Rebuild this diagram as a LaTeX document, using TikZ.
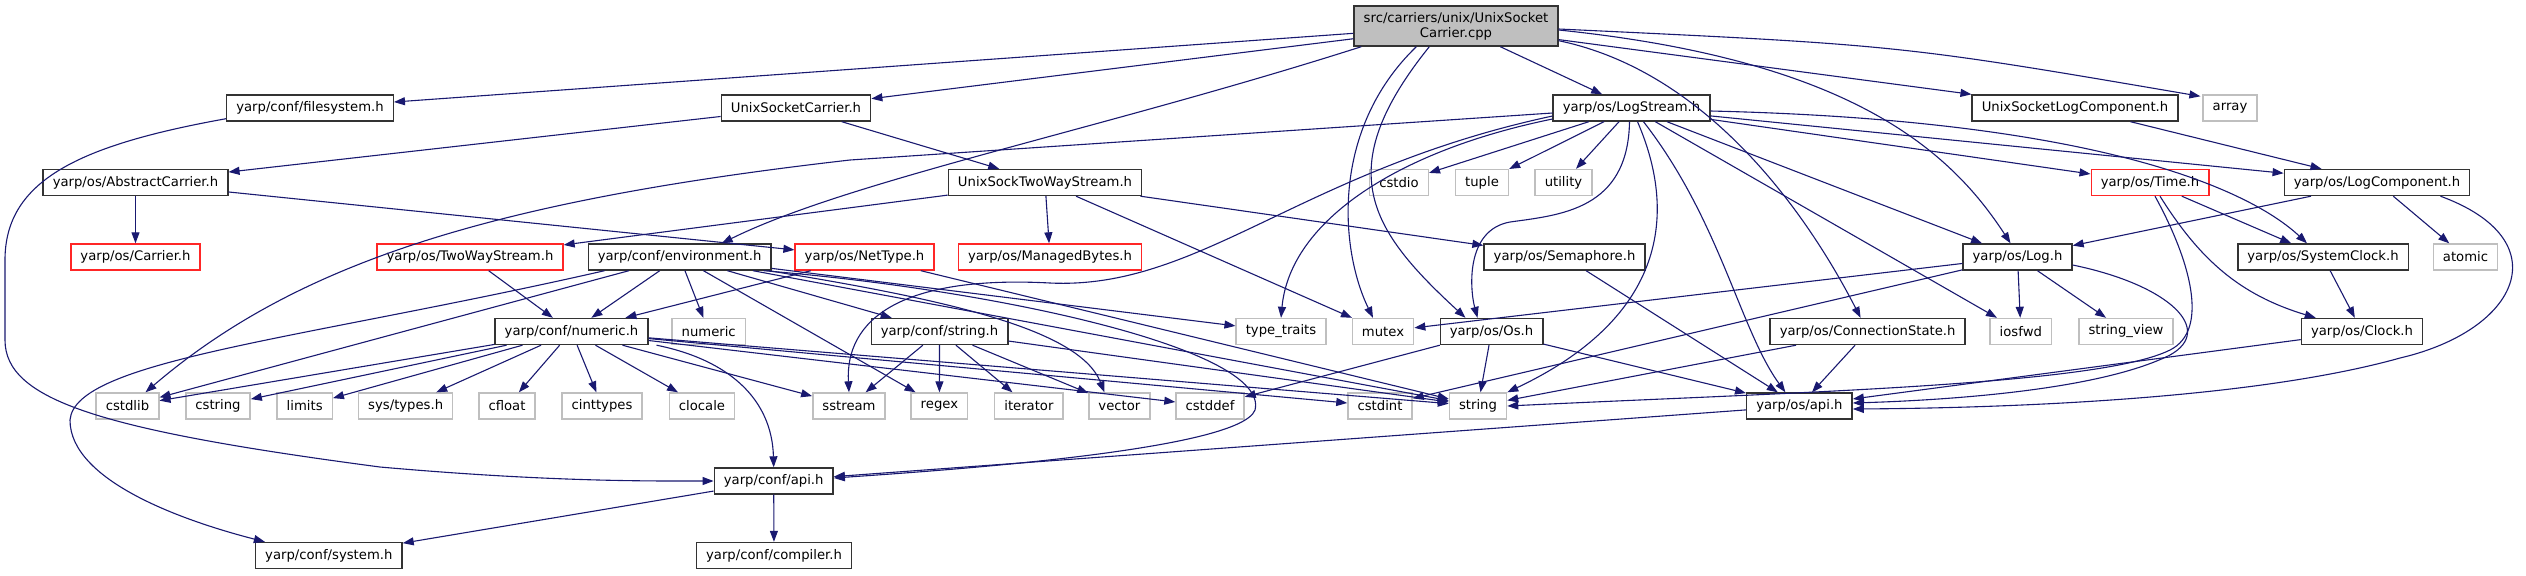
\documentclass[tikz,border=0pt]{standalone}
\usepackage{fontspec}
\setmainfont{DejaVu Sans}
\usetikzlibrary{arrows.meta, calc}
\definecolor{edgeblue}{RGB}{25,25,112}
\definecolor{sysgray}{RGB}{191,191,191}
\def\boxfont{\fontsize{6.6}{7.5}\selectfont}

\tikzset{
    box/.style={draw, fill=white, line width=0.7pt, font=\boxfont, minimum height=13pt, inner xsep=4.8pt, inner ysep=1pt},
    hdr/.style={box, draw=black!80},
    sys/.style={box, draw=sysgray},
    trunc/.style={box, draw=red!85},
    root/.style={box, draw=black!80, fill=sysgray, align=center, minimum width=102pt, minimum height=20pt},
    dep/.style={draw=edgeblue, line width=0.55pt, -{Triangle[length=5.5pt,width=4pt]}}
}

\begin{document}
\begin{tikzpicture}[x=0.5pt, y=-0.5pt]
    \useasboundingbox (0,0) rectangle (2526,575);

    \node [root] (main) at (1456,26) {src/carriers/unix/UnixSocket\\Carrier.cpp};

    \node [hdr] (fsys) at (310,108) {yarp/conf/filesystem.h};
    \node [hdr] (uscar) at (796,108) {UnixSocketCarrier.h};
    \node [hdr] (lstream) at (1631.5,108) {yarp/os/LogStream.h};
    \node [hdr] (uslog) at (2075,108) {UnixSocketLogComponent.h};
    \node [sys] (array) at (2230,108) {array};

    \node [hdr] (abscar) at (135.5,182.5) {yarp/os/AbstractCarrier.h};
    \node [hdr] (ustwo) at (1045,182.5) {UnixSockTwoWayStream.h};
    \node [sys] (cstdio) at (1399,182.5) {cstdio};
    \node [sys] (tuple) at (1482,182.5) {tuple};
    \node [sys] (utility) at (1563.5,182.5) {utility};
    \node [trunc] (time) at (2150,182.5) {yarp/os/Time.h};
    \node [hdr] (logcomp) at (2377,182.5) {yarp/os/LogComponent.h};

    \node [trunc] (carrier) at (135.5,257) {yarp/os/Carrier.h};
    \node [trunc] (twoway) at (470,257) {yarp/os/TwoWayStream.h};
    \node [hdr] (env) at (679.6,257) {yarp/conf/environment.h};
    \node [trunc] (nettype) at (864.5,257) {yarp/os/NetType.h};
    \node [trunc] (mbytes) at (1050,257) {yarp/os/ManagedBytes.h};
    \node [hdr] (sema) at (1564.5,257) {yarp/os/Semaphore.h};
    \node [hdr] (log) at (2017.5,257) {yarp/os/Log.h};
    \node [hdr] (sysclk) at (2323,257) {yarp/os/SystemClock.h};
    \node [sys] (atomic) at (2465.5,257) {atomic};

    \node [hdr] (numh) at (571.5,331.5) {yarp/conf/numeric.h};
    \node [sys] (numeric) at (708.7,331.5) {numeric};
    \node [hdr] (strh) at (939.5,331.5) {yarp/conf/string.h};
    \node [sys] (ttraits) at (1281,331.5) {type\_traits};
    \node [sys] (mutex) at (1383,331.5) {mutex};
    \node [hdr] (os) at (1491.5,331.5) {yarp/os/Os.h};
    \node [hdr] (cstate) at (1867.6,331.5) {yarp/os/ConnectionState.h};
    \node [sys] (iosfwd) at (2020.8,331.5) {iosfwd};
    \node [sys] (sview) at (2126,331.5) {string\_view};
    \node [hdr] (clock) at (2362,331.5) {yarp/os/Clock.h};

    \node [sys] (cstdlib) at (127.5,406) {cstdlib};
    \node [sys] (cstring) at (218,406) {cstring};
    \node [sys] (limits) at (304.7,406) {limits};
    \node [sys] (systypes) at (405.7,406) {sys/types.h};
    \node [sys] (cfloat) at (507,406) {cfloat};
    \node [sys] (cinttypes) at (602,406) {cinttypes};
    \node [sys] (clocale) at (702,406) {clocale};
    \node [sys] (sstream) at (849,406) {sstream};
    \node [sys] (regex) at (939.4,406) {regex};
    \node [sys] (iterator) at (1028.9,406) {iterator};
    \node [sys] (vector) at (1119.4,406) {vector};
    \node [sys] (cstddef) at (1210,406) {cstddef};
    \node [sys] (cstdint) at (1380,406) {cstdint};
    \node [sys] (string) at (1478,406) {string};
    \node [hdr] (osapi) at (1799.4,406) {yarp/os/api.h};

    \node [hdr] (confapi) at (773.7,481) {yarp/conf/api.h};
    \node [hdr] (system) at (328.8,555.5) {yarp/conf/system.h};
    \node [hdr] (compiler) at (774,555.5) {yarp/conf/compiler.h};

    \draw [dep] (main) -- (fsys);
    \draw [dep] (main) -- (uscar);
    \draw [dep] ($(main.south west)+(8,0)$) .. controls (1100,130) and (850,180) .. ($(env.north east)+(-50,0)$);
    \draw [dep] (main) -- (lstream);
    \draw [dep] ($(main.south west)+(63,0)$) .. controls (1330,130) and (1340,250) .. ($(mutex.north)+(-10,0)$);
    \draw [dep] ($(main.south west)+(76,0)$) .. controls (1330,170) and (1370,230) .. ($(os.north)+(-26,0)$);
    \draw [dep] ($(main.south east)+(0,-6)$) .. controls (1700,70) and (1800,200) .. ($(cstate.north)+(-7,0)$);
    \draw [dep] ($(main.east)+(0,4)$) .. controls (1850,60) and (1950,150) .. ($(log.north)+(-7,0)$);
    \draw [dep] (main) -- (uslog);
    \draw [dep] ($(main.east)+(0,3)$) .. controls (1900,45) .. ($(array.north west)+(-2,2)$);

    \draw [dep] ($(fsys.south west)+(0,-3)$) .. controls (80,145) and (5,180) .. (5,260) -- (5,340) .. controls (5,400) and (100,430) .. (380,467) .. controls (550,482) and (650,481) .. (confapi.west);

    \draw [dep] (uscar) -- (abscar);
    \draw [dep] (uscar) -- (ustwo);
    \draw [dep] (abscar) -- (carrier);
    \draw [dep] (abscar) -- (nettype);

    \draw [dep] (ustwo) -- (twoway);
    \draw [dep] (ustwo) -- (mbytes);
    \draw [dep] (ustwo) -- (sema);
    \draw [dep] (ustwo) -- (mutex);

    \draw [dep] ($(lstream.west)+(0,5)$) -- (850,160) .. controls (500,200) and (300,260) .. ($(cstdlib.north)+(18,0)$);
    \draw [dep] ($(lstream.west)+(0,8)$) .. controls (1300,170) and (1200,290) .. (1050,283) .. controls (900,275) and (845,320) .. (sstream.north);
    \draw [dep] ($(lstream.west)+(0,11)$) .. controls (1400,150) and (1290,220) .. (ttraits.north);
    \draw [dep] (lstream) -- (cstdio);
    \draw [dep] (lstream) -- (tuple);
    \draw [dep] (lstream) -- (utility);
    \draw [dep] ($(lstream.south)+(-2,0)$) .. controls (1628,210) and (1560,215) .. (1510,222) .. controls (1465,230) and (1470,290) .. ($(os.north)+(-14,0)$);
    \draw [dep] ($(lstream.south)+(6,0)$) .. controls (1680,220) and (1660,320) .. (string.north east);
    \draw [dep] ($(lstream.south)+(12,0)$) .. controls (1720,220) and (1740,330) .. ($(osapi.north)+(-14,0)$);
    \draw [dep] (lstream) -- (iosfwd);
    \draw [dep] (lstream) -- (log);
    \draw [dep] (lstream) -- (time);
    \draw [dep] (lstream) -- (logcomp);
    \draw [dep] ($(lstream.east)+(0,3)$) .. controls (2100,120) and (2250,190) .. ($(sysclk.north)+(-16,0)$);

    \draw [dep] (uslog) -- (logcomp);
    \draw [dep] (logcomp) -- (log);
    \draw [dep] (logcomp) -- (atomic);
    \draw [dep] ($(logcomp.south east)+(-30,0)$) .. controls (2560,240) and (2520,330) .. (2400,358) .. controls (2250,400) and (2000,408) .. ($(osapi.east)+(0,3)$);

    \draw [dep] (time) -- (sysclk);
    \draw [dep] ($(time.south)+(10,0)$) .. controls (2200,260) and (2240,295) .. ($(clock.north west)+(15,0)$);
    \draw [dep] ($(time.south)+(5,0)$) .. controls (2190,260) and (2210,330) .. (2170,350) .. controls (2100,385) and (1800,392) .. (string.east);
    \draw [dep] (sysclk) -- (clock);
    \draw [dep] (clock) -- (osapi);

    \draw [dep] (twoway) -- (numh);
    \draw [dep] ($(env.south west)+(17,0)$) .. controls (300,340) and (75,360) .. (70,420) .. controls (70,480) and (180,520) .. ($(system.north west)+(10,0)$);
    \draw [dep] (env) -- (cstdlib);
    \draw [dep] (env) -- (numh);
    \draw [dep] (env) -- (numeric);
    \draw [dep] (env) -- (regex);
    \draw [dep] (env) -- (strh);
    \draw [dep] (env) -- (ttraits);
    \draw [dep] ($(env.south east)+(-3,0)$) .. controls (950,300) and (1080,330) .. ($(vector.north)+(-15,0)$);
    \draw [dep] (env) -- (string);
    \draw [dep] ($(env.south east)+(-8,0)$) .. controls (1000,290) and (1270,350) .. (1255,410) .. controls (1240,450) and (950,470) .. ($(confapi.east)+(0,-3)$);

    \draw [dep] (nettype) -- (numh);
    \draw [dep] (nettype) -- (string);

    \draw [dep] (numh) -- (cstdlib);
    \draw [dep] (numh) -- (cstring);
    \draw [dep] (numh) -- (limits);
    \draw [dep] (numh) -- (systypes);
    \draw [dep] (numh) -- (cfloat);
    \draw [dep] (numh) -- (cinttypes);
    \draw [dep] (numh) -- (clocale);
    \draw [dep] (numh) -- (sstream);
    \draw [dep] (numh) -- (cstddef);
    \draw [dep] (numh) -- (cstdint);
    \draw [dep] (numh) -- (string);
    \draw [dep] ($(numh.south east)+(8,0)$) .. controls (730,360) and (772,400) .. (confapi.north);

    \draw [dep] (strh) -- (sstream);
    \draw [dep] (strh) -- (regex);
    \draw [dep] (strh) -- (iterator);
    \draw [dep] (strh) -- (vector);
    \draw [dep] (strh) -- (string);

    \draw [dep] (os) -- (cstddef);
    \draw [dep] (os) -- (string);
    \draw [dep] (os) -- (osapi);
    \draw [dep] (sema) -- (osapi);
    \draw [dep] (cstate) -- (osapi);
    \draw [dep] (cstate) -- (string);

    \draw [dep] (log) -- (mutex);
    \draw [dep] (log) -- (cstdint);
    \draw [dep] (log) -- (iosfwd);
    \draw [dep] (log) -- (sview);
    \draw [dep] ($(log.east)+(0,8)$) .. controls (2170,285) and (2215,330) .. (2170,355) .. controls (2100,390) and (1950,400) .. ($(osapi.east)+(0,-3)$);

    \draw [dep] (osapi) -- (confapi);
    \draw [dep] (confapi) -- (system);
    \draw [dep] (confapi) -- (compiler);
\end{tikzpicture}
\end{document}
